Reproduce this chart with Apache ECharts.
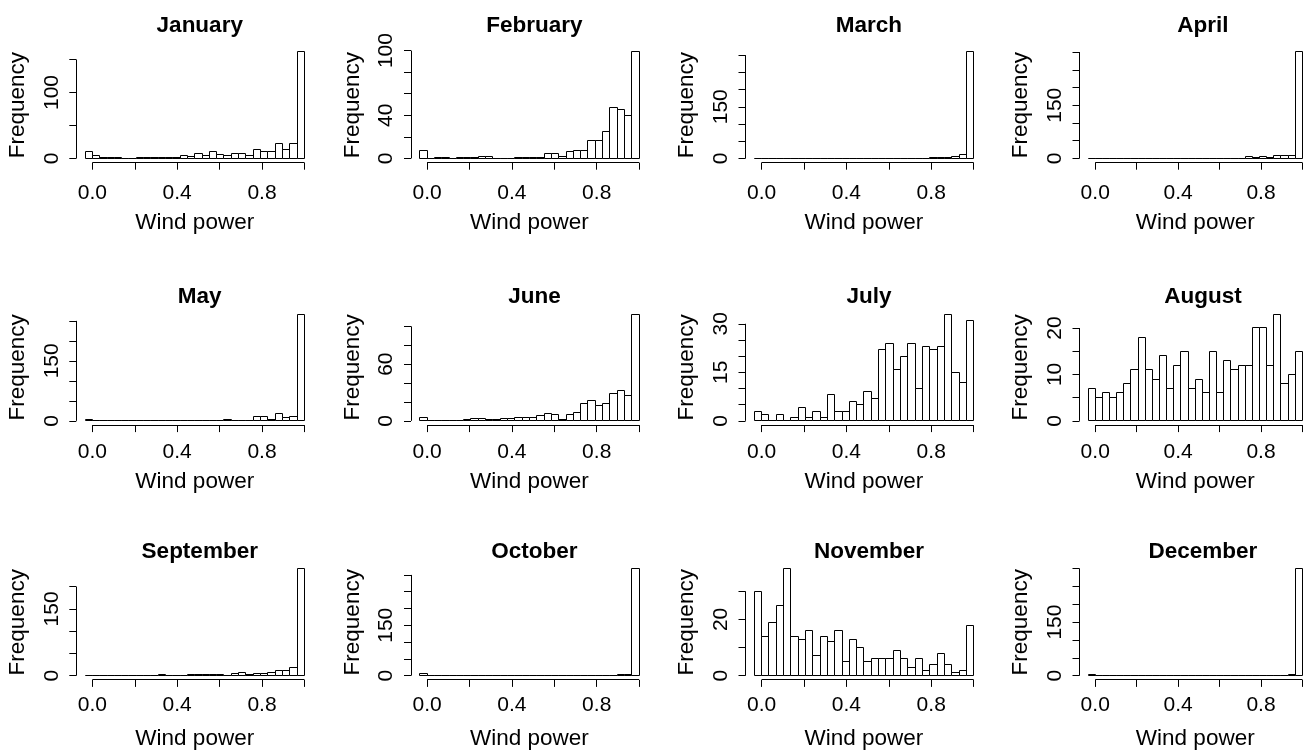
<!DOCTYPE html>
<html>
<head>
<meta charset="utf-8">
<script src="https://cdn.jsdelivr.net/npm/echarts@6/dist/echarts.min.js"></script>
<style>
  html, body { margin: 0; padding: 0; background: #fff; }
  #chart { width: 1311px; height: 753px; }
</style>
</head>
<body>
<div id="chart"></div>
<script>
// Monthly histograms of wind power (30 bins of width 1/29 from -1/29 to 1)
const months = ['January', 'February', 'March', 'April', 'May', 'June',
                'July', 'August', 'September', 'October', 'November', 'December'];

const jan = [11,4,1,2,1, 0,0,1,1,1, 2,2,1,5,3, 8,5,10,6,4, 8,8,5,13,11, 11,22,14,22,162];
const feb = [7,0,1,1,0, 1,1,1,2,2, 0,0,0,1,1, 1,1,5,5,2, 6,7,7,17,17, 25,47,45,40,99];
const mar = [1,0,0,0,0, 0,0,1,0,0, 0,0,0,0,0, 0,0,0,0,0, 0,1,1,1,2, 2,3,6,10,310];
const apr = [1,1,0,0,0, 0,0,0,0,0, 0,0,0,1,0, 0,0,1,0,0, 0,0,5,4,6, 2,9,9,9,301];
const may = [3,0,0,0,0, 0,0,0,0,0, 1,0,0,0,0, 0,0,0,2,3, 2,0,1,10,10, 4,18,9,10,267];
const jun = [4,0,0,0,0, 0,1,2,2,1, 1,2,2,4,3, 4,6,8,7,1, 7,9,18,21,16, 18,29,32,27,113];
const jul = [3,2,0,2,0, 1,4,1,3,1, 8,3,3,6,5, 9,7,22,24,16, 20,24,10,23,22, 23,33,15,12,31];
const aug = [7,5,6,5,6, 8,11,18,11,9, 14,7,12,15,7, 9,6,15,6,13, 11,12,12,20,20, 12,23,8,10,15];
const sep = [1,0,0,0,1, 1,0,1,0,0, 2,0,1,1,2, 2,3,3,3,1, 5,7,2,4,5, 8,12,12,19,240];
const oct = [5,0,0,0,0, 0,0,0,0,0, 0,0,0,0,0, 0,0,0,0,0, 0,0,1,0,0, 1,1,3,4,318];
const nov = [30,14,19,25,38, 14,13,16,7,14, 12,16,5,13,10, 5,6,6,6,9, 6,3,6,2,4, 8,4,1,2,18];
const dec = [2,0,0,0,0, 0,0,0,0,0, 0,0,0,0,0, 1,0,0,0,0, 0,1,0,1,1, 0,0,1,3,299];
const counts = [jan, feb, mar, apr, may, jun, jul, aug, sep, oct, nov, dec];

// Histogram breaks
const binStart = -1 / 29;
const binWidth = 1 / 29;

// Axis ticks and labels
const xTicks = [0, 0.2, 0.4, 0.6, 0.8, 1.0];
const xTickLabels = [0, 0.4, 0.8];
const yTickStep = [50, 20, 50, 50, 50, 20, 5, 5, 50, 50, 10, 50];
const yTickLabels = [[0, 100], [0, 40, 100], [0, 150], [0, 150], [0, 150], [0, 60],
                     [0, 15, 30], [0, 10, 20], [0, 150], [0, 150], [0, 20], [0, 150]];

const xTitle = 'Wind power';
const yTitle = 'Frequency';

// ---- layout ----
const FONT = "'Liberation Sans', Arial, Helvetica, sans-serif";
const INK = '#000';
const COL_LEFT = [76.3, 411, 745.5, 1079.5];
const PLOT_W = 236.9;
const ROW_TOP = [47.4, 309.8, 564.6];
const PLOT_H = 115.3;
const TITLE_TOP = [9.3, 280, 535];
const X_LABEL_MARGIN = [20.4, 16.5, 14.5];
const X_NAME_GAP = [48.5, 45.3, 47.7];
const Y_NAME_GAP = 47;
const Y_LABEL_MARGIN = 14;

const snap = v => Math.round(v - 0.5) + 0.5;

const grid = [], xAxis = [], yAxis = [], series = [], title = [];

counts.forEach((vals, i) => {
  const r = Math.floor(i / 4), c = i % 4;
  const xLo = binStart, xHi = binStart + binWidth * vals.length;
  const xPad = 0.04 * (xHi - xLo);
  const xMin = xLo - xPad, xMax = xHi + xPad;
  const yMaxVal = Math.max(...vals);
  const yMin = -0.04 * yMaxVal, yMax = 1.04 * yMaxVal;
  const step = yTickStep[i];
  const yTicks = [];
  for (let v = 0; v <= yMax + 1e-9; v += step) yTicks.push(v);
  const yTop = yTicks[yTicks.length - 1];

  grid.push({ left: COL_LEFT[c], top: ROW_TOP[r], width: PLOT_W, height: PLOT_H });

  title.push({
    text: months[i],
    left: COL_LEFT[c] + PLOT_W / 2,
    top: TITLE_TOP[r],
    textAlign: 'center',
    textStyle: { fontFamily: FONT, fontSize: 22.5, fontWeight: 'bold', color: INK }
  });

  xAxis.push({
    gridIndex: i, type: 'value', min: xMin, max: xMax,
    axisLine: { show: false, onZero: false },
    splitLine: { show: false },
    axisTick: { show: true, length: 7, customValues: xTicks, lineStyle: { color: INK, width: 1 } },
    axisLabel: {
      customValues: xTickLabels, formatter: v => v.toFixed(1),
      margin: X_LABEL_MARGIN[r], fontFamily: FONT, fontSize: 21, color: INK
    },
    name: xTitle, nameLocation: 'middle', nameGap: X_NAME_GAP[r],
    nameTextStyle: { fontFamily: FONT, fontSize: 22.5, color: INK }
  });

  yAxis.push({
    gridIndex: i, type: 'value', min: yMin, max: yMax,
    axisLine: { show: false, onZero: false },
    splitLine: { show: false },
    axisTick: { show: true, length: 7, customValues: yTicks, lineStyle: { color: INK, width: 1 } },
    axisLabel: {
      customValues: yTickLabels[i], rotate: 90,
      margin: Y_LABEL_MARGIN, fontFamily: FONT, fontSize: 21, color: INK
    },
    name: yTitle, nameLocation: 'middle', nameGap: Y_NAME_GAP,
    nameTextStyle: { fontFamily: FONT, fontSize: 22.5, color: INK }
  });

  // histogram bars: [left break, right break, count]
  const bars = vals.map((v, k) => [binStart + k * binWidth, binStart + (k + 1) * binWidth, v]);
  series.push({
    type: 'custom', xAxisIndex: i, yAxisIndex: i, clip: false,
    data: bars,
    renderItem: (params, api) => {
      const p0 = api.coord([api.value(0), 0]);
      const p1 = api.coord([api.value(1), api.value(2)]);
      const x0 = snap(p0[0]), x1 = snap(p1[0]);
      const yb = snap(p0[1]), yt = snap(p1[1]);
      return {
        type: 'rect',
        shape: { x: x0, y: yt, width: x1 - x0, height: yb - yt },
        style: { fill: '#fff', stroke: INK, lineWidth: 1 }
      };
    }
  });

  // axis lines spanning the tick range only
  series.push({
    type: 'custom', xAxisIndex: i, yAxisIndex: i, clip: false,
    data: [[0, 0]],
    renderItem: (params, api) => {
      const a = api.coord([xTicks[0], yMin]);
      const b = api.coord([xTicks[xTicks.length - 1], yMin]);
      const p = api.coord([xMin, 0]);
      const q = api.coord([xMin, yTop]);
      return {
        type: 'group',
        children: [
          { type: 'line', shape: { x1: a[0], y1: snap(a[1]), x2: b[0], y2: snap(b[1]) },
            style: { stroke: INK, lineWidth: 1 } },
          { type: 'line', shape: { x1: snap(p[0]), y1: p[1], x2: snap(q[0]), y2: q[1] },
            style: { stroke: INK, lineWidth: 1 } }
        ]
      };
    }
  });
});

const chart = echarts.init(document.getElementById('chart'), null, { renderer: 'canvas' });
chart.setOption({
  animation: false,
  backgroundColor: '#fff',
  title, grid, xAxis, yAxis, series
});
</script>
</body>
</html>
